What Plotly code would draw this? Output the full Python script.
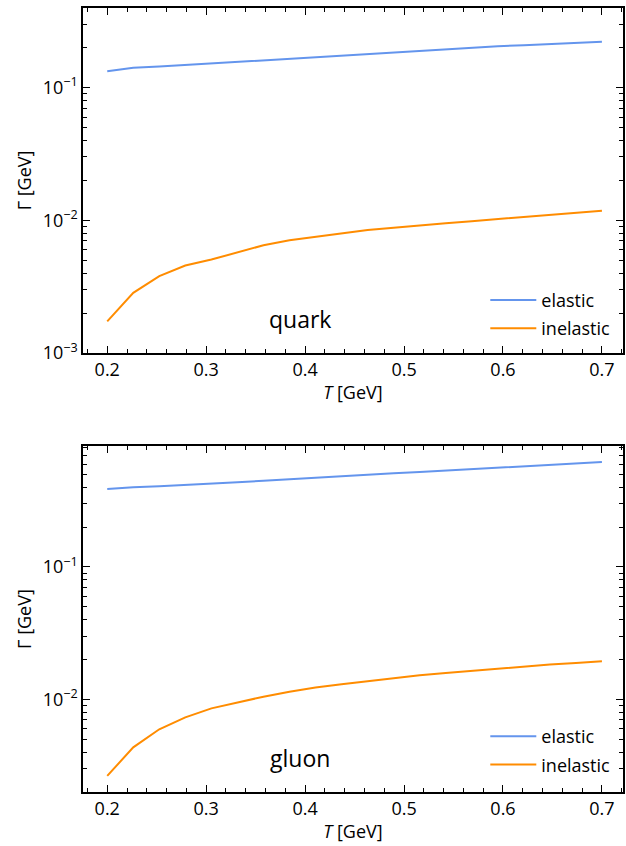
import plotly.graph_objects as go

# Temperature grid [GeV]
T = [0.2, 0.2263, 0.2526, 0.2789, 0.3053, 0.3316, 0.3579, 0.3842, 0.4105, 0.4368,
     0.4632, 0.4895, 0.5158, 0.5421, 0.5684, 0.5947, 0.6211, 0.6474, 0.6737, 0.7]

# Damping rates Gamma [GeV]
quark_elastic = [0.133, 0.141, 0.144, 0.148, 0.152, 0.156, 0.161, 0.166, 0.171, 0.176,
                 0.181, 0.186, 0.191, 0.196, 0.200, 0.205, 0.209, 0.213, 0.218, 0.222]
quark_inelastic = [0.00173, 0.00284, 0.00379, 0.00456, 0.00506, 0.00574, 0.00648, 0.00707,
                   0.00750, 0.00800, 0.00845, 0.00880, 0.00920, 0.00950, 0.00985, 0.01020,
                   0.01060, 0.01100, 0.01140, 0.0118]
gluon_elastic = [0.389, 0.401, 0.407, 0.415, 0.425, 0.436, 0.448, 0.461, 0.474, 0.487,
                 0.499, 0.511, 0.523, 0.535, 0.547, 0.560, 0.573, 0.588, 0.604, 0.620]
gluon_inelastic = [0.00264, 0.00434, 0.00594, 0.00731, 0.00855, 0.00950, 0.01047, 0.01142,
                   0.01230, 0.01300, 0.01370, 0.01440, 0.01520, 0.01580, 0.01640, 0.01700,
                   0.01760, 0.01830, 0.01880, 0.01940]

series_names = ["elastic", "inelastic"]
panel_labels = ["quark", "gluon"]

# Log-axis tick labels
y_tickvals = [1e-3, 1e-2, 1e-1]
y_ticktext = ["10<sup>\u22123</sup>", "10<sup>\u22122</sup>", "10<sup>\u22121</sup>"]
y_minor = [m * 10.0 ** e for e in (-3, -2, -1) for m in range(2, 10)]

BLUE = "#6495ED"
ORANGE = "#FF8C00"
FONT = "Open Sans"

fig = go.Figure()

panels = [
    ("x", "y", "legend", quark_elastic, quark_inelastic),
    ("x2", "y2", "legend2", gluon_elastic, gluon_inelastic),
]
for xa, ya, lg, el, inel in panels:
    fig.add_trace(go.Scatter(x=T, y=el, mode="lines", name=series_names[0],
                             legendgroup=xa + "el",
                             line=dict(color=BLUE, width=2), xaxis=xa, yaxis=ya, legend=lg))
    fig.add_trace(go.Scatter(x=T, y=inel, mode="lines", name=series_names[1],
                             legendgroup=xa + "inel",
                             line=dict(color=ORANGE, width=2), xaxis=xa, yaxis=ya, legend=lg))

xcommon = dict(
    range=[0.1755, 0.7213], tickmode="linear", tick0=0, dtick=0.1, tickformat=".1f",
    showline=True, linecolor="black", linewidth=1.5, mirror="allticks",
    ticks="inside", ticklen=7, tickwidth=1.3, tickcolor="black",
    minor=dict(ticks="inside", ticklen=4, tickwidth=1, tickcolor="black", tick0=0, dtick=0.02),
    showgrid=False, zeroline=False,
    tickfont=dict(size=18, color="black", family=FONT),
    title=dict(text="<i>T</i> [GeV]", font=dict(size=18, color="black", family=FONT), standoff=6),
)
ycommon = dict(
    type="log", tickmode="array", tickvals=y_tickvals, ticktext=y_ticktext,
    showline=True, linecolor="black", linewidth=1.5, mirror="allticks",
    ticks="inside", ticklen=7, tickwidth=1.3, tickcolor="black",
    minor=dict(ticks="inside", ticklen=4, tickwidth=1, tickcolor="black",
               tickmode="array", tickvals=y_minor),
    showgrid=False, zeroline=False,
    tickfont=dict(size=18, color="black", family=FONT),
    title=dict(text="\u0393 [GeV]", font=dict(size=18, color="black", family=FONT), standoff=6),
)

legend_style = dict(xanchor="left", yanchor="bottom", itemwidth=46, tracegroupgap=2,
                    bgcolor="rgba(0,0,0,0)", font=dict(size=18, family=FONT))

fig.update_layout(
    width=626, height=846,
    margin=dict(l=83, r=1, t=8, b=54),
    paper_bgcolor="white", plot_bgcolor="white",
    font=dict(family=FONT, color="black"),
    xaxis=dict(xcommon, anchor="y", domain=[0, 1]),
    yaxis=dict(ycommon, anchor="x", domain=[0.560, 1.0], range=[-3.0, -0.4]),
    xaxis2=dict(xcommon, anchor="y2", domain=[0, 1]),
    yaxis2=dict(ycommon, anchor="x2", domain=[0.0, 0.4413], range=[-2.70, -0.086]),
    legend=dict(legend_style, x=0.745, y=0.568),
    legend2=dict(legend_style, x=0.745, y=0.0115),
    showlegend=True,
)

for i, (xr, yr) in enumerate([("x domain", "y domain"), ("x2 domain", "y2 domain")]):
    fig.add_annotation(text=panel_labels[i], xref=xr, yref=yr, x=0.402, y=0.097,
                       xanchor="center", yanchor="middle", showarrow=False,
                       font=dict(size=23, color="black", family=FONT))

fig.write_html("out.html")
